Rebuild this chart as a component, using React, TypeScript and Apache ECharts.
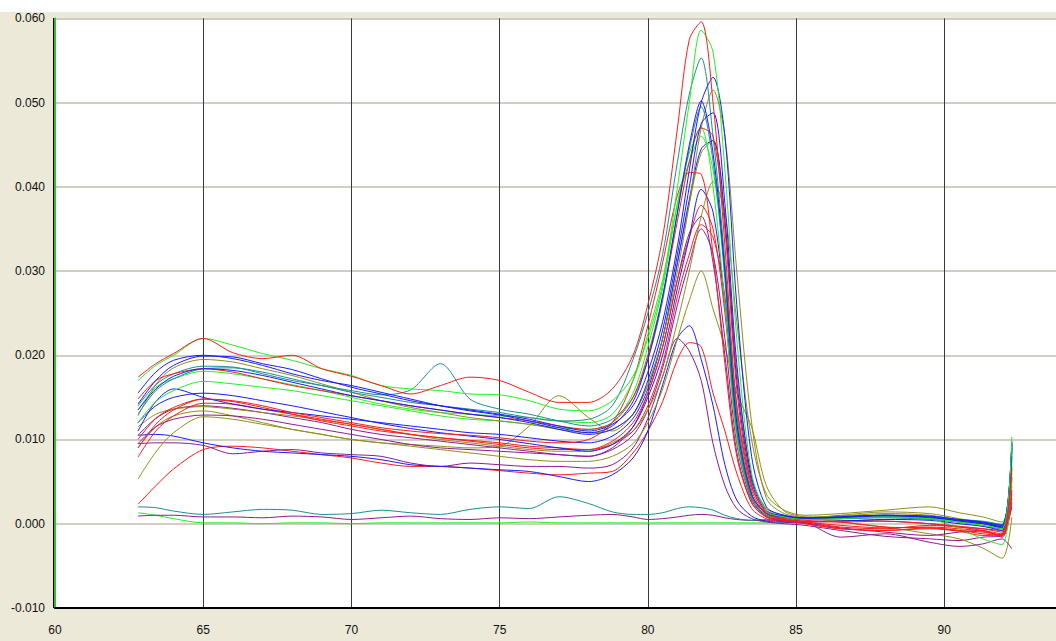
import React, { useEffect, useRef } from "react";
import * as echarts from "echarts";

// Temperature samples (°C) shared by every melt curve
const TEMPS = [
  62.8, 63.4, 64, 65, 66, 67, 68, 69, 70, 71, 72, 73, 74, 75, 76, 77, 78, 78.8,
  79.5, 80, 80.5, 81, 81.4, 81.8, 82.2, 82.6, 83, 83.5, 84, 84.6, 85.3,
  86.5, 88, 89.5, 90.5, 91.3, 91.95, 92.28,
];

// Derivative values, in units of 0.001
const redA = [17.4, 19.0, 20.2, 22.0, 20.3, 19.6, 20.0, 18.4, 17.5, 16.4, 15.4, 16.4, 17.4, 17.0, 15.6, 14.4, 14.4, 16.0, 20.0, 26.0, 34.0, 47.0, 57.5, 59.6, 50.0, 33.0, 14.0, 4.0, 1.2, 0.6, 0.3, 0.2, 0.3, 0.0, -0.3, -0.6, -1.0, 6.5];
const greenA = [17.0, 18.8, 20.0, 22.0, 21.2, 20.2, 19.4, 18.4, 17.6, 16.4, 16.0, 15.8, 15.4, 15.3, 14.6, 13.6, 13.4, 14.6, 17.5, 22.0, 28.5, 40.0, 50.0, 58.6, 56.0, 42.0, 22.0, 6.0, 1.5, 0.8, 0.5, 0.6, 0.8, 0.6, 0.2, -0.2, -0.6, 10.3];
const tealA = [14.0, 16.5, 17.8, 18.7, 18.6, 17.8, 17.0, 16.4, 15.6, 15.0, 14.4, 14.0, 13.6, 13.2, 12.6, 12.2, 12.4, 14.0, 19.5, 25.0, 32.0, 43.0, 51.0, 55.3, 46.0, 31.0, 13.0, 3.5, 1.2, 0.8, 0.6, 0.6, 0.7, 0.5, 0.2, 0.0, -0.3, 8.8];
const blueA = [14.2, 17.0, 18.8, 19.9, 19.8, 19.0, 18.3, 17.2, 16.2, 15.4, 14.6, 14.0, 13.5, 13.0, 12.4, 11.6, 11.0, 11.8, 14.0, 18.0, 24.0, 33.0, 42.0, 50.0, 53.0, 46.0, 26.0, 8.0, 2.0, 1.0, 0.7, 0.8, 1.0, 0.9, 0.5, 0.2, -0.2, 9.8];
const oliveA = [12.8, 16.5, 18.5, 19.5, 19.2, 18.4, 17.6, 16.6, 15.6, 14.6, 13.8, 13.2, 12.6, 12.2, 11.8, 11.2, 10.8, 11.2, 13.0, 16.5, 22.0, 30.0, 38.0, 47.0, 51.5, 46.0, 30.0, 12.0, 3.0, 1.2, 0.8, 0.9, 1.2, 1.0, 0.4, 0.0, -0.4, 7.5];
const blueB = [15.5, 18.0, 19.4, 20.0, 19.6, 18.8, 17.8, 17.0, 16.4, 15.6, 14.8, 14.0, 13.4, 12.9, 12.2, 11.4, 10.8, 11.6, 14.5, 19.5, 27.0, 37.0, 45.0, 50.2, 44.0, 30.0, 12.0, 3.5, 1.2, 0.8, 0.5, 0.7, 0.9, 0.8, 0.3, 0.0, -0.5, 9.2];
const tealB = [13.0, 15.8, 17.2, 18.4, 18.5, 18.0, 17.2, 16.4, 15.8, 15.3, 15.9, 19.0, 14.8, 13.6, 13.0, 12.2, 11.6, 12.4, 15.0, 19.5, 26.5, 37.0, 44.5, 49.5, 43.0, 29.0, 11.0, 3.0, 1.0, 0.7, 0.6, 0.6, 0.8, 0.9, 0.5, 0.3, -0.1, 8.0];
const blueC = [13.5, 16.0, 17.5, 18.4, 18.2, 17.6, 16.8, 16.0, 15.2, 14.6, 14.0, 13.5, 13.0, 12.6, 12.0, 11.2, 10.6, 11.2, 13.0, 17.0, 23.0, 32.0, 40.0, 47.5, 48.8, 38.0, 19.0, 5.5, 1.6, 0.9, 0.6, 0.8, 1.0, 0.7, 0.4, 0.1, -0.4, 9.5];
const greenB = [12.0, 14.5, 15.8, 16.9, 16.6, 16.2, 15.8, 15.2, 14.6, 14.0, 13.4, 12.8, 12.4, 12.2, 11.8, 11.4, 11.2, 12.0, 15.5, 21.0, 28.0, 38.0, 44.0, 47.0, 40.0, 26.0, 10.0, 3.0, 1.0, 0.7, 0.5, 0.6, 0.9, 0.6, -0.6, -1.8, -2.5, 5.5];
const greenC = [13.5, 16.2, 17.2, 18.1, 17.8, 17.2, 16.5, 15.8, 15.0, 14.2, 13.6, 13.2, 13.0, 12.8, 12.6, 12.2, 12.0, 13.0, 17.0, 22.5, 29.0, 38.0, 43.0, 46.0, 42.0, 30.0, 13.0, 3.5, 1.2, 0.8, 0.5, 0.7, 1.0, 0.8, 0.2, -0.2, -0.5, 9.0];
const redB = [14.8, 17.0, 17.8, 18.4, 18.0, 17.2, 16.4, 15.8, 15.2, 14.6, 14.0, 13.5, 13.0, 12.6, 12.2, 11.6, 11.2, 12.0, 15.0, 20.0, 27.0, 36.0, 43.0, 47.0, 46.0, 35.0, 16.0, 4.5, 1.4, 0.8, 0.4, 0.2, -0.4, -0.5, -0.8, -1.2, -1.4, 4.0];
const redC = [10.0, 12.5, 13.8, 14.8, 14.6, 14.0, 13.2, 12.6, 12.0, 11.4, 11.0, 10.7, 10.5, 10.2, 9.8, 9.6, 10.0, 12.0, 17.0, 23.5, 31.0, 39.0, 41.7, 41.5, 32.0, 19.0, 8.0, 2.5, 0.8, 0.4, 0.2, -0.4, -0.6, -0.2, -0.4, -0.8, -1.2, 3.0];
const oliveB = [11.5, 13.0, 13.6, 13.9, 13.6, 13.2, 12.8, 12.3, 11.8, 11.2, 10.6, 10.0, 9.6, 9.2, 8.8, 8.6, 8.6, 9.6, 11.0, 13.5, 17.5, 24.0, 30.0, 36.5, 40.6, 37.0, 24.0, 10.0, 3.5, 1.6, 1.0, 1.2, 1.6, 2.0, 1.3, 0.8, 0.2, 5.0];
const blueD = [12.0, 14.0, 15.0, 15.5, 15.2, 14.6, 14.0, 13.3, 12.6, 11.9, 11.3, 10.8, 10.4, 10.0, 9.5, 9.0, 8.6, 9.4, 11.5, 15.0, 20.0, 28.0, 34.0, 39.7, 37.0, 26.0, 12.0, 3.5, 1.2, 0.8, 0.6, 0.8, 0.9, 0.6, 0.2, -0.3, -0.8, 9.0];
const redD = [7.9, 11.0, 12.8, 14.3, 14.2, 13.6, 13.0, 12.4, 11.8, 11.2, 10.6, 10.2, 9.8, 9.4, 9.0, 8.8, 8.8, 9.8, 12.0, 15.5, 21.0, 29.0, 34.0, 37.8, 35.0, 25.0, 11.0, 3.2, 1.0, 0.5, 0.2, -0.2, -0.5, -0.4, -0.6, -0.9, -1.5, 5.5];
const purpleA = [10.5, 12.5, 13.6, 14.0, 13.7, 13.2, 12.6, 12.0, 11.2, 10.6, 10.2, 9.8, 9.4, 9.0, 8.6, 8.2, 8.0, 9.0, 11.5, 15.5, 21.0, 29.0, 34.5, 36.5, 31.0, 20.0, 8.5, 2.5, 0.8, 0.3, 0.1, -0.5, -1.0, -1.4, -1.0, -0.8, -1.6, 2.5];
const purpleB = [9.5, 11.5, 12.4, 12.9, 12.8, 12.4, 11.8, 11.2, 10.6, 10.0, 9.4, 9.0, 8.8, 8.6, 8.4, 8.2, 8.0, 8.8, 10.5, 13.5, 18.5, 26.0, 31.0, 35.0, 32.0, 22.0, 9.5, 2.8, 0.9, 0.4, 0.2, -1.6, -1.2, -2.2, -2.7, -2.4, -1.8, -3.0];
const oliveC = [5.3, 8.5, 10.8, 12.7, 12.4, 11.8, 11.2, 10.6, 10.0, 9.6, 9.2, 8.8, 8.4, 8.0, 7.6, 7.4, 7.4, 8.0, 9.5, 12.0, 16.0, 22.0, 26.5, 30.0, 25.5, 21.0, 15.5, 11.5, 4.5, 1.5, 0.8, 0.2, -0.4, -1.2, -1.8, -2.9, -4.1, 0.8];
const oliveD = [9.0, 11.5, 12.8, 13.4, 12.8, 12.0, 11.2, 10.6, 10.0, 9.6, 9.4, 9.2, 9.0, 9.2, 11.6, 15.2, 12.6, 11.0, 13.0, 16.5, 22.0, 31.0, 38.0, 44.0, 45.5, 36.0, 18.0, 5.5, 1.8, 1.0, 0.7, 1.0, 1.4, 1.2, 0.6, 0.1, -0.6, 6.0];
const redE = [9.0, 11.8, 13.5, 14.8, 14.5, 13.8, 13.0, 12.2, 11.6, 11.0, 10.6, 10.2, 9.9, 9.6, 9.2, 9.0, 8.8, 9.4, 11.0, 14.0, 19.0, 27.0, 32.0, 35.5, 34.0, 27.0, 14.0, 4.5, 1.3, 0.5, 0.0, -0.6, -0.8, -0.6, -0.9, -1.4, -1.2, 6.8];
const blueE = [11.0, 14.5, 16.0, 15.0, 14.2, 13.6, 13.2, 12.8, 12.4, 12.0, 11.6, 11.2, 10.8, 10.6, 10.2, 9.8, 9.6, 10.4, 12.5, 16.0, 22.0, 31.0, 38.5, 44.5, 45.5, 36.0, 17.0, 5.0, 1.5, 0.9, 0.7, 0.9, 1.0, 0.8, 0.3, 0.0, -0.2, 9.6];
const blueL = [10.5, 10.6, 10.4, 9.6, 9.0, 8.6, 8.4, 8.2, 8.0, 7.6, 7.0, 6.8, 6.6, 6.4, 6.2, 5.6, 5.0, 5.8, 7.8, 11.0, 16.5, 22.0, 23.5, 19.5, 14.0, 7.0, 2.8, 0.9, 0.3, 0.2, 0.2, 0.3, 0.5, 0.4, 0.0, -0.3, -0.6, 8.5];
const purpleL = [9.5, 9.6, 9.6, 9.3, 8.3, 8.6, 8.8, 8.4, 8.2, 8.0, 7.2, 6.8, 7.2, 7.0, 6.8, 6.8, 6.6, 7.0, 9.0, 12.5, 17.5, 22.0, 20.5, 17.0, 9.5, 4.5, 1.8, 0.6, 0.2, 0.0, -0.2, -0.8, -1.5, -1.8, -2.0, -1.6, -1.4, 3.5];
const redL = [2.3, 4.5, 6.5, 8.8, 9.2, 9.0, 8.6, 8.2, 7.8, 7.2, 6.8, 6.8, 6.6, 6.3, 6.0, 5.8, 6.0, 6.2, 8.4, 11.0, 14.5, 19.5, 21.5, 21.0, 15.5, 11.0, 6.0, 1.8, 0.6, 0.2, 0.0, -0.6, -0.8, -0.5, -0.8, -1.0, -1.3, 4.5];
const tealBase = [2.0, 1.9, 1.5, 1.1, 1.4, 1.7, 1.6, 1.1, 1.2, 1.6, 1.3, 1.1, 1.7, 2.0, 1.8, 3.2, 2.4, 1.4, 1.1, 1.1, 1.3, 1.8, 2.0, 1.9, 1.6, 1.0, 0.6, 0.4, 0.5, 0.6, 0.6, 0.7, 0.8, 0.6, 0.3, 0.1, -0.2, 8.0];
const purpleBase = [0.9, 1.0, 1.0, 0.8, 0.8, 0.7, 0.9, 0.8, 0.5, 0.7, 0.9, 0.6, 0.5, 0.7, 0.6, 0.8, 1.0, 1.1, 0.8, 0.5, 0.6, 0.8, 1.0, 1.1, 1.0, 0.7, 0.5, 0.4, 0.4, 0.4, 0.5, 0.4, 0.3, 0.0, -0.4, -0.6, -0.8, 2.0];
const greenBase = [1.3, 1.0, 0.6, 0.1, 0.1, 0.0, 0.1, 0.1, 0.0, 0.1, 0.1, 0.1, 0.1, 0.1, 0.2, 0.1, 0.1, 0.1, 0.1, 0.1, 0.1, 0.1, 0.1, 0.1, 0.1, 0.1, 0.1, 0.1, 0.1, 0.1, 0.2, 0.3, 0.5, 0.6, 0.5, 0.2, -0.1, 9.6];

const RED = "#ff1a1a";
const GREEN = "#22f022";
const BLUE = "#1a1aff";
const TEAL = "#1a8f8f";
const OLIVE = "#8f8f1a";
const PURPLE = "#8f1a8f";

const CURVES: [string, string, number[]][] = [
  ["Base 3", GREEN, greenBase],
  ["Base 2", PURPLE, purpleBase],
  ["Base 1", TEAL, tealBase],
  ["L3", RED, redL],
  ["L2", PURPLE, purpleL],
  ["L1", BLUE, blueL],
  ["M8", OLIVE, oliveD],
  ["M7", OLIVE, oliveC],
  ["M6", PURPLE, purpleB],
  ["M5", PURPLE, purpleA],
  ["M2", OLIVE, oliveB],
  ["M9", RED, redE],
  ["M4", RED, redD],
  ["M3", BLUE, blueD],
  ["M10", BLUE, blueE],
  ["M1", RED, redC],
  ["H9", GREEN, greenB],
  ["H10", GREEN, greenC],
  ["H5", OLIVE, oliveA],
  ["H7", TEAL, tealB],
  ["H3", TEAL, tealA],
  ["H11", RED, redB],
  ["H8", BLUE, blueC],
  ["H6", BLUE, blueB],
  ["H4", BLUE, blueA],
  ["H2", GREEN, greenA],
  ["H1", RED, redA],
];

const X_MIN = 60;
const X_MAX = 93.77;
const Y_MIN = -10;
const Y_MAX = 60;

const FONT = "'Liberation Sans', Arial, sans-serif";

export default function App() {
  const ref = useRef<HTMLDivElement>(null);

  useEffect(() => {
    if (!ref.current) return;
    const chart = echarts.init(ref.current, undefined, { renderer: "svg" });

    const series = CURVES.map(([name, color, vals]) => ({
      name,
      type: "line",
      data: TEMPS.map((t, i) => [t, vals[i]]),
      showSymbol: false,
      smooth: 0.3,
      lineStyle: { color, width: 1 },
      itemStyle: { color },
      emphasis: { disabled: true },
    }));

    chart.setOption({
      animation: false,
      backgroundColor: "#ECE9D8",
      grid: {
        left: 55,
        right: 0,
        top: 18.4,
        bottom: 33.1,
        show: true,
        backgroundColor: "#ffffff",
        borderWidth: 0,
      },
      xAxis: {
        type: "value",
        min: X_MIN,
        max: X_MAX,
        interval: 5,
        axisLine: { show: true, onZero: false, lineStyle: { color: "#000", width: 2 } },
        axisTick: { show: false },
        axisLabel: {
          color: "#111",
          fontSize: 12,
          fontFamily: FONT,
          margin: 16,
          showMaxLabel: false,
          formatter: (v: number) => (Math.abs(v % 5) < 1e-6 ? String(v) : ""),
        },
        splitLine: { show: true, lineStyle: { color: "#3a3a3a", width: 1 } },
      },
      yAxis: {
        type: "value",
        min: Y_MIN,
        max: Y_MAX,
        interval: 10,
        axisLine: { show: true, onZero: false, lineStyle: { color: "#3cb83c", width: 2 } },
        axisTick: { show: false },
        axisLabel: {
          color: "#111",
          fontSize: 12,
          fontFamily: FONT,
          margin: 10,
          formatter: (v: number) => (v / 1000).toFixed(3),
        },
        splitLine: { show: true, lineStyle: { color: "#c2bdb0", width: 1.5 } },
      },
      graphic: [
        {
          type: "rect",
          shape: { x: 0, y: 0, width: 1056, height: 12 },
          style: { fill: "#ffffff" },
          silent: true,
        },
        {
          type: "line",
          shape: { x1: 53.5, y1: 18, x2: 53.5, y2: 608 },
          style: { stroke: "#000", lineWidth: 1 },
          silent: true,
        },
      ],
      series,
    });

    return () => chart.dispose();
  }, []);

  return (
    <div style={{ position: "fixed", left: 0, top: 0, width: 1056, height: 641, background: "#fff" }}>
      <div ref={ref} style={{ width: 1056, height: 641 }} />
    </div>
  );
}
